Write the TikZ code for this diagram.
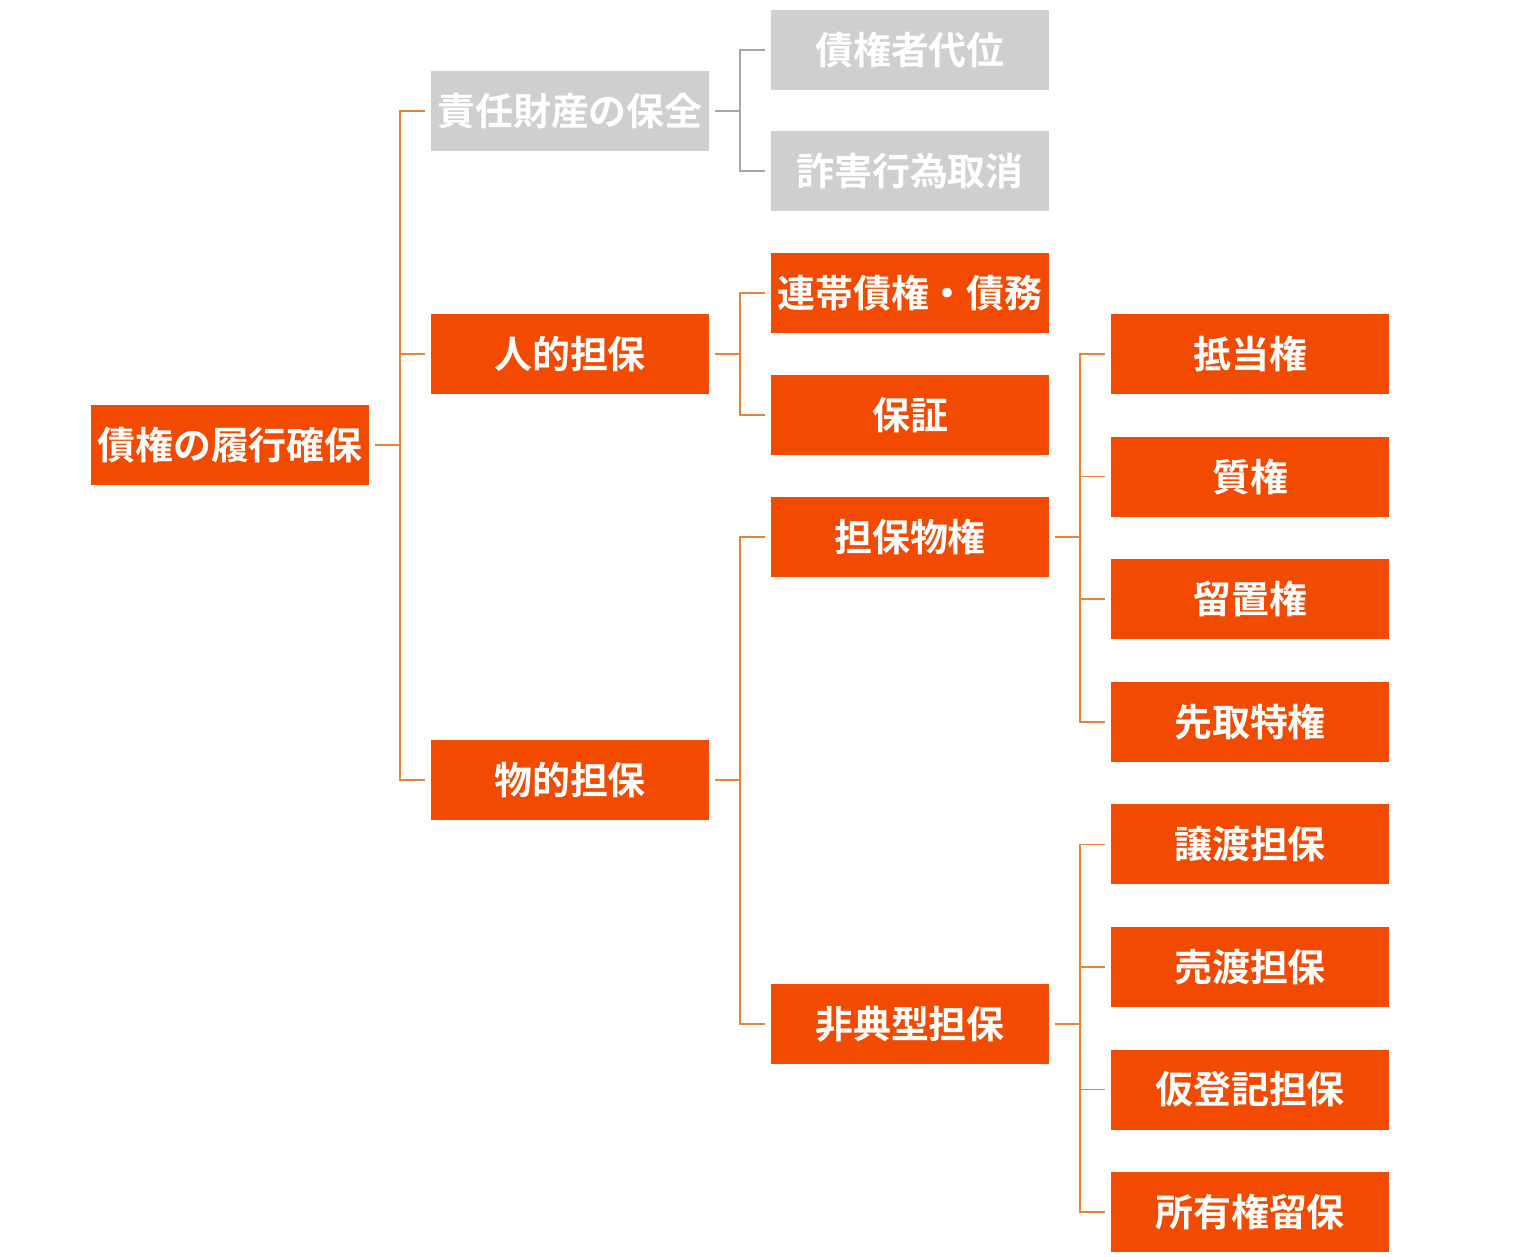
\documentclass[tikz,border=0pt]{standalone}
\usepackage{fontspec}
\setmainfont{Noto Sans CJK JP Bold}
\usetikzlibrary{positioning}
\definecolor{boxorange}{HTML}{F24A00}
\definecolor{lineorange}{HTML}{E8833A}
\definecolor{boxgray}{HTML}{D0CECE}
\definecolor{linegray}{HTML}{A6A6A6}
\begin{document}
\begin{tikzpicture}[x=0.025cm,y=-0.025cm,
    box/.style={fill=boxorange,text=white,minimum width=6.95cm,minimum height=2cm,inner sep=0pt,font=\fontsize{27}{27}\selectfont},
    grey/.style={box,fill=boxgray},
    link/.style={draw=lineorange,line width=1.2pt,shorten <=0.15cm,shorten >=0.15cm},
    glink/.style={link,draw=linegray}]
    \useasboundingbox (0,0) rectangle (1517,1256);

    \node[box] (root) at (230,445) {債権の履行確保};
    \node[grey] (hozen) at (570,111) {責任財産の保全};
    \node[box] (jinteki) at (570,354) {人的担保};
    \node[box] (butteki) at (570,780) {物的担保};
    \node[grey] (daii) at (910,50) {債権者代位};
    \node[grey] (sagai) at (910,171) {詐害行為取消};
    \node[box] (rentai) at (910,293) {連帯債権・債務};
    \node[box] (hosho) at (910,415) {保証};
    \node[box] (buppo) at (910,537) {担保物権};
    \node[box] (hiten) at (910,1024) {非典型担保};
    \node[box] (teito) at (1250,354) {抵当権};
    \node[box] (shitsu) [below=1.05cm of teito] {質権};
    \node[box] (ryuchi) [below=1.05cm of shitsu] {留置権};
    \node[box] (sakidori) [below=1.05cm of ryuchi] {先取特権};
    \node[box] (joto) [below=1.05cm of sakidori] {譲渡担保};
    \node[box] (uriwatashi) [below=1.05cm of joto] {売渡担保};
    \node[box] (karitoki) [below=1.05cm of uriwatashi] {仮登記担保};
    \node[box] (shoyu) [below=1.05cm of karitoki] {所有権留保};

    \foreach \c in {hozen,jinteki,butteki}
      \draw[link] (root.east) -- ++(31,0) |- (\c.west);
    \foreach \c in {daii,sagai}
      \draw[glink] (hozen.east) -- ++(31,0) |- (\c.west);
    \foreach \c in {rentai,hosho}
      \draw[link] (jinteki.east) -- ++(31,0) |- (\c.west);
    \foreach \c in {buppo,hiten}
      \draw[link] (butteki.east) -- ++(31,0) |- (\c.west);
    \foreach \c in {teito,shitsu,ryuchi,sakidori}
      \draw[link] (buppo.east) -- ++(31,0) |- (\c.west);
    \foreach \c in {joto,uriwatashi,karitoki,shoyu}
      \draw[link] (hiten.east) -- ++(31,0) |- (\c.west);
\end{tikzpicture}
\end{document}
